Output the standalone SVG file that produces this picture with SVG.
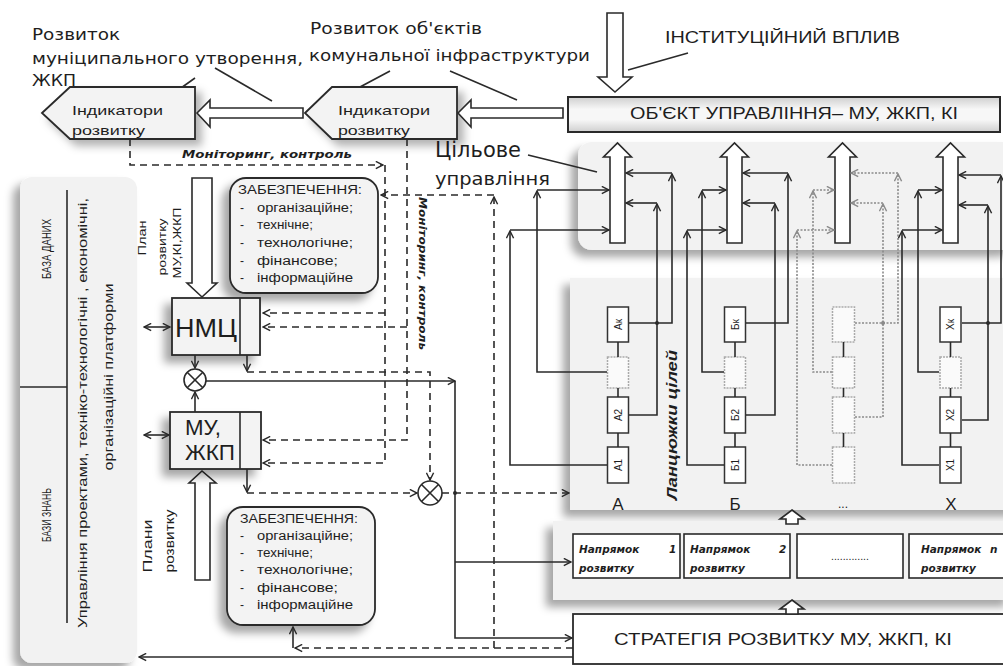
<svg xmlns="http://www.w3.org/2000/svg" width="1003" height="666" viewBox="0 0 1003 666">
<defs>
<style>
text{font-family:"Liberation Sans",Arial,sans-serif;fill:#1e1e1e}
.dj{font-family:"DejaVu Sans",sans-serif}
.ln{fill:none;stroke:#2a2a2a;stroke-width:1.6}
.ds{fill:none;stroke:#2a2a2a;stroke-width:1.6;stroke-dasharray:7,5}
.dg{fill:none;stroke:#8a8a8a;stroke-width:1.6;stroke-dasharray:2,1.5}
.bx{fill:#fff;stroke:#2a2a2a;stroke-width:1.6}
.gb{fill:#f3f3f3;stroke:#2a2a2a;stroke-width:1.8}
.cb{fill:#fff;stroke:#333;stroke-width:1.5}
.cd{fill:#fafafa;stroke:#aaa;stroke-width:1.5;stroke-dasharray:2,1}
.pn{fill:#f2f2f2}
.t11{font-size:12px}
.ni{font-family:"DejaVu Sans",sans-serif;font-size:10.5px;font-style:italic;font-weight:bold}
.mon{font-family:"DejaVu Sans",sans-serif;font-size:10.5px;font-style:italic;font-weight:bold}
</style>
<marker id="a" viewBox="0 0 10 10" refX="9" refY="5" markerWidth="9" markerHeight="9" markerUnits="userSpaceOnUse" orient="auto"><path d="M1,1 L9,5 L1,9" fill="none" stroke="#2a2a2a" stroke-width="1.6"/></marker>
<marker id="ag" viewBox="0 0 10 10" refX="9" refY="5" markerWidth="9" markerHeight="9" markerUnits="userSpaceOnUse" orient="auto"><path d="M1,1 L9,5 L1,9" fill="none" stroke="#8a8a8a" stroke-width="1.6"/></marker>
<marker id="a2" viewBox="0 0 10 10" refX="9" refY="5" markerWidth="9" markerHeight="9" markerUnits="userSpaceOnUse" orient="auto-start-reverse"><path d="M1,1 L9,5 L1,9" fill="none" stroke="#2a2a2a" stroke-width="1.6"/></marker>
<filter id="shL" x="-30%" y="-30%" width="160%" height="160%"><feDropShadow dx="-7" dy="7" stdDeviation="4" flood-color="#000" flood-opacity="0.35"/></filter>
<filter id="shR" x="-30%" y="-30%" width="160%" height="160%"><feDropShadow dx="6" dy="6" stdDeviation="4" flood-color="#000" flood-opacity="0.3"/></filter>
<linearGradient id="obj" x1="0" y1="0" x2="0" y2="1"><stop offset="0" stop-color="#cfcfcf"/><stop offset="0.35" stop-color="#f7f7f7"/><stop offset="0.65" stop-color="#f7f7f7"/><stop offset="1" stop-color="#cfcfcf"/></linearGradient>
</defs>
<rect width="1003" height="666" fill="#fff"/>

<g id="panels">
<rect x="20" y="177" width="117" height="486" rx="12" class="pn" filter="url(#shL)"/>
<rect x="578" y="142" width="440" height="108" rx="14" class="pn" filter="url(#shL)"/>
<rect x="570" y="278" width="450" height="232" class="pn" filter="url(#shL)"/>
<rect x="553" y="521" width="460" height="79" class="pn" filter="url(#shL)"/>
</g>

<g id="sidebar">
<line x1="67" y1="190" x2="67" y2="623" class="ln"/>
<line x1="20" y1="387" x2="67" y2="387" class="ln"/>
<text transform="translate(51,249) rotate(-90)" text-anchor="middle" font-size="13" textLength="60" lengthAdjust="spacingAndGlyphs">БАЗА ДАНИХ</text>
<text transform="translate(51,515) rotate(-90)" text-anchor="middle" font-size="13" textLength="54" lengthAdjust="spacingAndGlyphs">БАЗИ ЗНАНЬ</text>
<text transform="translate(87,413) rotate(-90)" text-anchor="middle" font-size="13" textLength="430" lengthAdjust="spacingAndGlyphs">Управління проектами, техніко-технологічні , економічні,</text>
<text transform="translate(113,377) rotate(-90)" text-anchor="middle" font-size="13" textLength="187" lengthAdjust="spacingAndGlyphs">організаційні платформи</text>
</g>

<g id="labels">
<text x="32" y="40" class="dj" font-size="16" textLength="88" lengthAdjust="spacingAndGlyphs">Розвиток</text>
<text x="32" y="64" class="dj" font-size="16" textLength="271" lengthAdjust="spacingAndGlyphs">муніципального утворення,</text>
<text x="32" y="86" class="dj" font-size="16" textLength="44" lengthAdjust="spacingAndGlyphs">ЖКП</text>
<text x="310" y="34" class="dj" font-size="16" textLength="172" lengthAdjust="spacingAndGlyphs">Розвиток об'єктів</text>
<text x="309" y="61" class="dj" font-size="16" textLength="281" lengthAdjust="spacingAndGlyphs">комунальної інфраструктури</text>
<text x="665" y="43" font-size="17" textLength="235" lengthAdjust="spacingAndGlyphs">ІНСТИТУЦІЙНИЙ ВПЛИВ</text>
<text x="435" y="157" class="dj" font-size="21" textLength="86" lengthAdjust="spacingAndGlyphs">Цільове</text>
<text x="435" y="185" class="dj" font-size="17" textLength="115" lengthAdjust="spacingAndGlyphs">управління</text>
<line x1="167" y1="98" x2="195" y2="78" class="ln"/>
<line x1="215" y1="68" x2="272" y2="101" class="ln"/>
<line x1="390" y1="71" x2="360" y2="87" class="ln"/>
<line x1="450" y1="71" x2="517" y2="100" class="ln"/>
<line x1="628" y1="70" x2="688" y2="53" class="ln"/>
<line x1="528" y1="155" x2="597" y2="172" class="ln"/>
<text x="182" y="158" class="mon" textLength="170" lengthAdjust="spacingAndGlyphs">Моніторинг, контроль</text>
<text transform="translate(419,197) rotate(90)" class="mon" textLength="153" lengthAdjust="spacingAndGlyphs">Моніторинг, контроль</text>
<text transform="translate(146,238) rotate(-90)" text-anchor="middle" font-size="11" textLength="35" lengthAdjust="spacingAndGlyphs">План</text>
<text transform="translate(166,247) rotate(-90)" text-anchor="middle" font-size="11" textLength="57" lengthAdjust="spacingAndGlyphs">розвитку</text>
<text transform="translate(181,243) rotate(-90)" text-anchor="middle" font-size="11" textLength="71" lengthAdjust="spacingAndGlyphs">МУ,КІ,ЖКП</text>
<text transform="translate(152,546) rotate(-90)" text-anchor="middle" font-size="12" textLength="53" lengthAdjust="spacingAndGlyphs">Плани</text>
<text transform="translate(174,541) rotate(-90)" text-anchor="middle" font-size="12" textLength="63" lengthAdjust="spacingAndGlyphs">розвитку</text>
<text transform="translate(677,425) rotate(-90)" text-anchor="middle" font-size="15" font-style="italic" font-weight="bold" textLength="150" lengthAdjust="spacingAndGlyphs">Ланцюжки цілей</text>
</g>

<g id="ind1">
<polygon points="42,113 70,87 195,87 195,139 70,139" fill="#f3f3f3" stroke="#2a2a2a" stroke-width="1.8" filter="url(#shR)"/>
<text x="72" y="115" font-size="13" textLength="91" lengthAdjust="spacingAndGlyphs">Індикатори</text>
<text x="72" y="135" font-size="13" textLength="73" lengthAdjust="spacingAndGlyphs">розвитку</text>
</g>
<g id="ind2">
<polygon points="305,113 332,87 457,87 457,139 332,139" fill="#f3f3f3" stroke="#2a2a2a" stroke-width="1.8" filter="url(#shR)"/>
<text x="338" y="115" font-size="13" textLength="92" lengthAdjust="spacingAndGlyphs">Індикатори</text>
<text x="338" y="135" font-size="13" textLength="72" lengthAdjust="spacingAndGlyphs">розвитку</text>
</g>

<g id="object">
<rect x="568" y="97" width="432" height="35" fill="url(#obj)" stroke="#2a2a2a" stroke-width="2"/>
<text x="630" y="119" font-size="16" textLength="328" lengthAdjust="spacingAndGlyphs">ОБ'ЄКТ УПРАВЛІННЯ– МУ, ЖКП, КІ</text>
</g>

<g id="strategy">
<rect x="573" y="614" width="440" height="50" fill="#fff" stroke="#2a2a2a" stroke-width="1.8"/>
<text x="614" y="645" font-size="17" textLength="338" lengthAdjust="spacingAndGlyphs">СТРАТЕГІЯ РОЗВИТКУ МУ, ЖКП, КІ</text>
</g>

<g id="directions">
<rect x="573" y="534" width="107" height="44" class="bx"/>
<text x="579" y="553" class="ni">Напрямок<tspan x="669">1</tspan></text>
<text x="579" y="572" class="ni">розвитку</text>
<rect x="684" y="534" width="106" height="44" class="bx"/>
<text x="690" y="553" class="ni">Напрямок<tspan x="779">2</tspan></text>
<text x="690" y="572" class="ni">розвитку</text>
<rect x="797" y="534" width="106" height="44" class="bx"/>
<text x="850" y="560" font-size="10.5" text-anchor="middle">.............</text>
<rect x="909" y="534" width="106" height="44" class="bx"/>
<text x="921" y="553" class="ni">Напрямок<tspan x="990">n</tspan></text>
<text x="921" y="572" class="ni">розвитку</text>
</g>

<g id="hollow" fill="#fff" stroke="#2a2a2a" stroke-width="1.6">
<polygon points="197,113 210,100 210,108 303,108 303,118 210,118 210,127"/>
<polygon points="458,113 471,100 471,108 563,108 563,118 471,118 471,127"/>
<polygon points="607,13 623,13 623,77 632,77 615,92 598,77 607,77"/>
<polygon points="192,178 212,178 212,283 217,283 202,297 187,283 192,283"/>
<polygon points="195,580 210,580 210,483 216,483 202,471 189,483 195,483"/>
<polygon points="792,510 804,519 798,519 798,524 786,524 786,519 780,519"/>
<polygon points="792,600 804,609 798,609 798,614 786,614 786,609 780,609"/>
<polygon points="610,243 610,157 603.5,157 617.5,143 631.5,157 625,157 625,243"/>
<polygon points="727,243 727,157 720.5,157 734.5,143 748.5,157 742,157 742,243"/>
<polygon points="835,243 835,157 828.5,157 842.5,143 856.5,157 850,157 850,243"/>
<polygon points="943,243 943,157 936.5,157 950.5,143 964.5,157 958,157 958,243"/>
</g>

<g id="supply1">
<rect x="230" y="178" width="148" height="115" rx="16" fill="#f3f3f3" stroke="#2a2a2a" stroke-width="1.8" filter="url(#shL)"/>
<text x="238" y="194" class="t11" textLength="124" lengthAdjust="spacingAndGlyphs">ЗАБЕЗПЕЧЕННЯ:</text>
<text x="240" y="212" class="t11">-<tspan x="257" textLength="96" lengthAdjust="spacingAndGlyphs">організаційне;</tspan></text>
<text x="240" y="229" class="t11">-<tspan x="257" textLength="56" lengthAdjust="spacingAndGlyphs">технічне;</tspan></text>
<text x="240" y="247" class="t11">-<tspan x="257" textLength="96" lengthAdjust="spacingAndGlyphs">технологічне;</tspan></text>
<text x="240" y="265" class="t11">-<tspan x="257" textLength="81" lengthAdjust="spacingAndGlyphs">фінансове;</tspan></text>
<text x="240" y="282" class="t11">-<tspan x="257" textLength="96" lengthAdjust="spacingAndGlyphs">інформаційне</tspan></text>
</g>
<g id="supply2">
<rect x="227" y="507" width="148" height="118" rx="16" fill="#f3f3f3" stroke="#2a2a2a" stroke-width="1.8" filter="url(#shL)"/>
<text x="240" y="523" class="t11" textLength="118" lengthAdjust="spacingAndGlyphs">ЗАБЕЗПЕЧЕННЯ:</text>
<text x="240" y="540" class="t11">-<tspan x="257" textLength="96" lengthAdjust="spacingAndGlyphs">організаційне;</tspan></text>
<text x="240" y="557" class="t11">-<tspan x="257" textLength="56" lengthAdjust="spacingAndGlyphs">технічне;</tspan></text>
<text x="240" y="574" class="t11">-<tspan x="257" textLength="96" lengthAdjust="spacingAndGlyphs">технологічне;</tspan></text>
<text x="240" y="592" class="t11">-<tspan x="257" textLength="81" lengthAdjust="spacingAndGlyphs">фінансове;</tspan></text>
<text x="240" y="609" class="t11">-<tspan x="257" textLength="96" lengthAdjust="spacingAndGlyphs">інформаційне</tspan></text>
</g>

<g id="nmc">
<rect x="172" y="298" width="88" height="57" class="gb" filter="url(#shL)"/>
<line x1="240" y1="298" x2="240" y2="355" class="ln"/>
<text x="175" y="337" font-size="25" textLength="62" lengthAdjust="spacingAndGlyphs">НМЦ</text>
</g>
<g id="mu">
<rect x="170" y="412" width="91" height="57" class="gb" filter="url(#shL)"/>
<line x1="240" y1="412" x2="240" y2="469" class="ln"/>
<text x="185" y="435" font-size="22" textLength="36" lengthAdjust="spacingAndGlyphs">МУ,</text>
<text x="185" y="460" font-size="22" textLength="50" lengthAdjust="spacingAndGlyphs">ЖКП</text>
</g>

<g id="sum1">
<circle cx="195" cy="380" r="11" fill="#fff" stroke="#2a2a2a" stroke-width="1.6"/>
<path d="M187.2,372.2 L202.8,387.8 M202.8,372.2 L187.2,387.8" class="ln"/>
</g>
<g id="sum2">
<circle cx="430" cy="493" r="12" fill="#fff" stroke="#2a2a2a" stroke-width="1.6"/>
<path d="M421.5,484.5 L438.5,501.5 M438.5,484.5 L421.5,501.5" class="ln"/>
</g>

<g id="chainA">
<rect x="607.5" y="307" width="21" height="35" class="cb"/>
<rect x="607.5" y="357" width="21" height="31" class="cd"/>
<rect x="607.5" y="397" width="21" height="36" class="cb"/>
<rect x="607.5" y="447" width="21" height="36" class="cb"/>
<text transform="translate(621.5,324.5) rotate(-90)" text-anchor="middle" font-size="10">Ак</text>
<text transform="translate(621.5,415) rotate(-90)" text-anchor="middle" font-size="10">А2</text>
<text transform="translate(621.5,465) rotate(-90)" text-anchor="middle" font-size="10">А1</text>
<text x="618" y="510" font-size="17" text-anchor="middle">А</text>
</g>
<g id="chainB">
<rect x="724.5" y="307" width="21" height="35" class="cb"/>
<rect x="724.5" y="357" width="21" height="31" class="cd"/>
<rect x="724.5" y="397" width="21" height="36" class="cb"/>
<rect x="724.5" y="447" width="21" height="36" class="cb"/>
<text transform="translate(738.5,324.5) rotate(-90)" text-anchor="middle" font-size="10">Бк</text>
<text transform="translate(738.5,415) rotate(-90)" text-anchor="middle" font-size="10">Б2</text>
<text transform="translate(738.5,465) rotate(-90)" text-anchor="middle" font-size="10">Б1</text>
<text x="735" y="510" font-size="17" text-anchor="middle">Б</text>
</g>
<g id="chainN">
<rect x="832.5" y="307" width="22" height="35" class="cd"/>
<rect x="832.5" y="357" width="22" height="31" class="cd"/>
<rect x="832.5" y="397" width="22" height="36" class="cd"/>
<rect x="832.5" y="447" width="22" height="36" class="cd"/>
<text x="843" y="508" font-size="12" text-anchor="middle">...</text>
</g>
<g id="chainX">
<rect x="940" y="307" width="21" height="35" class="cb"/>
<rect x="940" y="357" width="21" height="31" class="cd"/>
<rect x="940" y="397" width="21" height="36" class="cb"/>
<rect x="940" y="447" width="21" height="36" class="cb"/>
<text transform="translate(954,324.5) rotate(-90)" text-anchor="middle" font-size="10">Хк</text>
<text transform="translate(954,415) rotate(-90)" text-anchor="middle" font-size="10">Х2</text>
<text transform="translate(954,465) rotate(-90)" text-anchor="middle" font-size="10">Х1</text>
<text x="951" y="510" font-size="17" text-anchor="middle">Х</text>
</g>

<g id="connectors">
<path d="M618,342 V357 M618,388 V397 M618,433 V447 M735,342 V357 M735,388 V397 M735,433 V447 M843.5,342 V357 M843.5,388 V397 M843.5,433 V447 M950.5,342 V357 M950.5,388 V397 M950.5,433 V447" class="ln" stroke-width="2"/>
<path d="M607,372 H537 V191" class="ln" marker-end="url(#a)"/>
<path d="M537,190 H609" class="ln" marker-end="url(#a)"/>
<path d="M607,465 H510 V231" class="ln" marker-end="url(#a)"/>
<path d="M510,230 H609" class="ln" marker-end="url(#a)"/>
<path d="M629,323 H672 V174" class="ln" marker-end="url(#a)"/>
<path d="M672,173 H626" class="ln" marker-end="url(#a)"/>
<path d="M629,415 H657 V204" class="ln" marker-end="url(#a)"/>
<path d="M657,203 H626" class="ln" marker-end="url(#a)"/>
<path d="M724,372 H702 V191" class="ln" marker-end="url(#a)"/>
<path d="M702,190 H726" class="ln" marker-end="url(#a)"/>
<path d="M724,465 H687 V231" class="ln" marker-end="url(#a)"/>
<path d="M687,230 H726" class="ln" marker-end="url(#a)"/>
<path d="M746,323 H788 V174" class="ln" marker-end="url(#a)"/>
<path d="M788,173 H743" class="ln" marker-end="url(#a)"/>
<path d="M746,415 H775 V204" class="ln" marker-end="url(#a)"/>
<path d="M775,203 H743" class="ln" marker-end="url(#a)"/>
<path d="M832,372 H813 V191" class="dg" marker-end="url(#ag)"/>
<path d="M813,190 H834" class="dg" marker-end="url(#ag)"/>
<path d="M832,465 H797 V231" class="dg" marker-end="url(#ag)"/>
<path d="M797,230 H834" class="dg" marker-end="url(#ag)"/>
<path d="M855,323 H898 V174" class="dg" marker-end="url(#ag)"/>
<path d="M898,173 H851" class="dg" marker-end="url(#ag)"/>
<path d="M855,417 H883 V204" class="dg" marker-end="url(#ag)"/>
<path d="M883,203 H851" class="dg" marker-end="url(#ag)"/>
<circle cx="883" cy="323" r="2" fill="#8a8a8a"/>
<path d="M939,372 H918 V191" class="ln" marker-end="url(#a)"/>
<path d="M918,190 H942" class="ln" marker-end="url(#a)"/>
<path d="M939,465 H902 V231" class="ln" marker-end="url(#a)"/>
<path d="M902,230 H942" class="ln" marker-end="url(#a)"/>
<path d="M962,323 H1001 V176" class="ln" marker-end="url(#a)"/>
<path d="M1001,175 H959" class="ln" marker-end="url(#a)"/>
<path d="M962,420 H988 V206" class="ln" marker-end="url(#a)"/>
<path d="M988,205 H959" class="ln" marker-end="url(#a)"/>
<circle cx="988" cy="323" r="2" fill="#2a2a2a"/>
<circle cx="657" cy="323" r="2" fill="#2a2a2a"/>
<path d="M130,139 V165 H383" class="ds" marker-end="url(#a)"/>
<path d="M385,165 V463 H263" class="ds" marker-end="url(#a)"/>
<path d="M385,313 H263" class="ds" marker-end="url(#a)"/>
<path d="M407,139 V440 H263" class="ds" marker-end="url(#a)"/>
<path d="M407,327 H263" class="ds" marker-end="url(#a)"/>
<path d="M494,648 V197" class="ds" marker-end="url(#a)"/>
<path d="M494,195 H381" class="ds" marker-end="url(#a)"/>
<path d="M144,327 H170" class="ln" marker-start="url(#a2)" marker-end="url(#a2)"/>
<path d="M144,435 H169" class="ln" marker-start="url(#a2)" marker-end="url(#a2)"/>
<path d="M195,355 V368" class="ln" marker-end="url(#a)"/>
<path d="M195,412 V392" class="ln" marker-end="url(#a)"/>
<path d="M247,355 V371" class="ln" marker-end="url(#a)"/>
<path d="M247,372 H430 V480" class="ds" marker-end="url(#a)"/>
<path d="M247,469 V492" class="ln" marker-end="url(#a)"/>
<path d="M247,493 H417" class="ds" marker-end="url(#a)"/>
<path d="M442,493 H569" class="ds" marker-end="url(#a)"/>
<path d="M206,381 H455" class="ln" marker-end="url(#a)"/>
<path d="M455,381 V638 H572" class="ln" marker-end="url(#a)"/>
<path d="M455,562 H571" class="ln" marker-end="url(#a)"/>
<circle cx="455" cy="493" r="2" fill="#2a2a2a"/>
<path d="M573,648 H295" class="ds" marker-end="url(#a)"/>
<path d="M293,648 V627" class="ln" marker-end="url(#a)"/>
<path d="M573,657 H139" class="ln" marker-end="url(#a)"/>
</g>
</svg>
